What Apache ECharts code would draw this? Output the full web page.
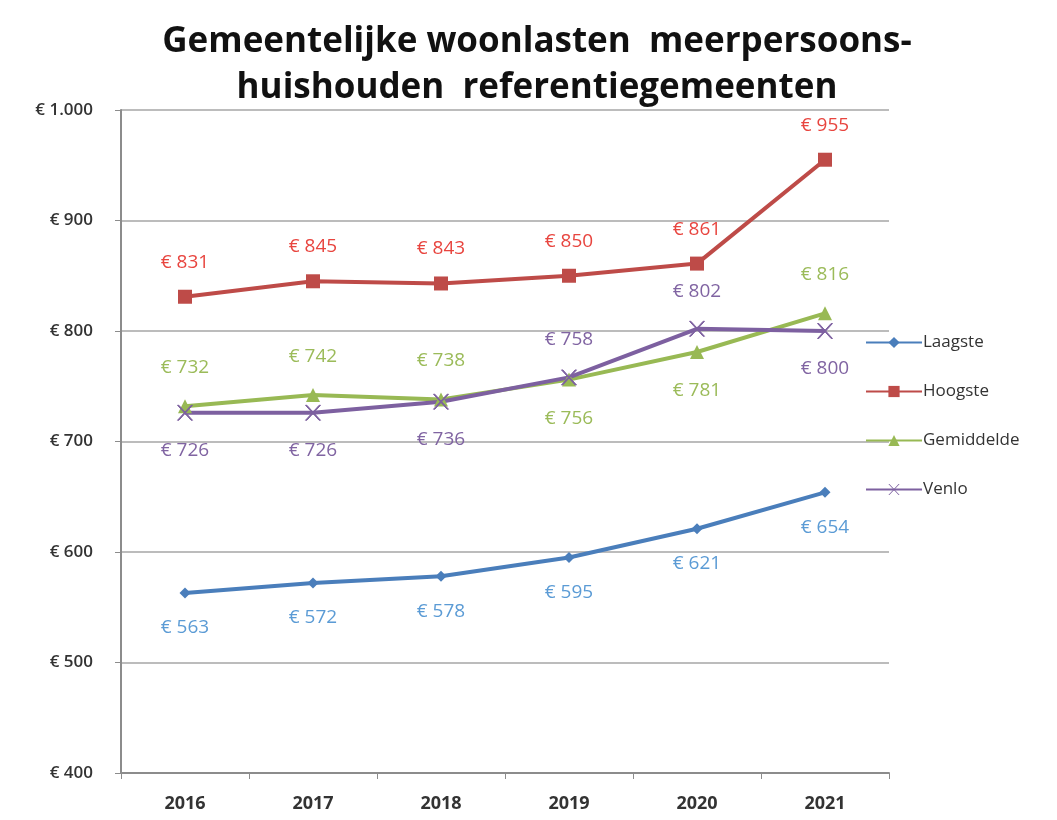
<!DOCTYPE html>
<html>
<head>
<meta charset="utf-8">
<script src="https://cdn.jsdelivr.net/npm/echarts@6/dist/echarts.min.js"></script>
<style>
  html, body { margin: 0; padding: 0; background: #fff; }
  #chart { width: 1057px; height: 820px; }
</style>
</head>
<body>
<div id="chart"></div>
<script>
var years = ['2016', '2017', '2018', '2019', '2020', '2021'];
var laagste = [563, 572, 578, 595, 621, 654];
var hoogste = [831, 845, 843, 850, 861, 955];
var gemiddelde = [732, 742, 738, 756, 781, 816];
var venlo = [726, 726, 736, 758, 802, 800];
// label above (true) or below (false) per point
var gemAbove = [true, true, true, false, false, true];
var venloAbove = [false, false, false, true, true, false];

var crossPath = 'path://M0,0 L1,0 L11,10 L10,10 Z M10,0 L11,0 L1,10 L0,10 Z';

function euro(v) {
  return '€ ' + String(v).replace(/\B(?=(\d{3})+(?!\d))/g, '.');
}

function withPos(values, above) {
  return values.map(function (v, i) {
    return { value: v, label: { position: above[i] ? 'top' : 'bottom' } };
  });
}

function labelStyle(color) {
  return {
    show: true,
    color: color,
    fontSize: 19,
    fontFamily: 'Open Sans',
    distance: 14,
    formatter: function (p) { return euro(p.value); }
  };
}

var chart = echarts.init(document.getElementById('chart'));
chart.setOption({
  backgroundColor: '#fff',
  animation: false,
  title: {
    text: 'Gemeentelijke woonlasten  meerpersoons-\nhuishouden  referentiegemeenten',
    left: 532,
    textAlign: 'center',
    top: 14,
    textStyle: {
      fontFamily: 'Open Sans',
      fontWeight: 'bold',
      fontSize: 35,
      lineHeight: 46,
      color: '#111'
    }
  },
  legend: {
    orient: 'vertical',
    left: 860,
    top: 329,
    itemGap: 32,
    itemWidth: 56,
    itemHeight: 14,
    textStyle: { fontFamily: 'Open Sans', fontSize: 17, color: '#333', padding: [0, 0, 0, -4] },
    data: ['Laagste', 'Hoogste', 'Gemiddelde', 'Venlo']
  },
  grid: { left: 121, right: 168, top: 110, bottom: 47 },
  xAxis: {
    type: 'category',
    data: years,
    boundaryGap: true,
    axisLine: { lineStyle: { color: '#8c8c8c', width: 2 } },
    axisTick: { show: true, length: 6, lineStyle: { color: '#8c8c8c' } },
    axisLabel: { color: '#333', fontSize: 18, fontWeight: 'bold', fontFamily: 'Open Sans', margin: 22 }
  },
  yAxis: {
    type: 'value',
    min: 400,
    max: 1000,
    interval: 100,
    axisLine: { show: true, lineStyle: { color: '#8c8c8c', width: 2 } },
    axisTick: { show: true, length: 6, inside: false, lineStyle: { color: '#8c8c8c' } },
    splitLine: { lineStyle: { color: '#a6a6a6', width: 1.5 } },
    axisLabel: {
      color: '#333', fontSize: 17, fontWeight: 600, fontFamily: 'Open Sans', margin: 28,
      formatter: function (v) { return euro(v); }
    }
  },
  series: [
    {
      name: 'Laagste',
      type: 'line',
      data: laagste,
      symbol: 'diamond',
      symbolSize: 11,
      color: '#4a7ebb',
      lineStyle: { width: 4, color: '#4a7ebb' },
      label: Object.assign(labelStyle('#5b9bd5'), { position: 'bottom', distance: 20 })
    },
    {
      name: 'Hoogste',
      type: 'line',
      data: hoogste,
      symbol: 'rect',
      symbolSize: 14,
      color: '#be4b48',
      lineStyle: { width: 4, color: '#be4b48' },
      label: Object.assign(labelStyle('#e8453f'), { position: 'top', distance: 18 })
    },
    {
      name: 'Gemiddelde',
      type: 'line',
      data: withPos(gemiddelde, gemAbove),
      symbol: 'triangle',
      symbolSize: 14,
      color: '#98b954',
      lineStyle: { width: 4, color: '#98b954' },
      label: Object.assign(labelStyle('#9bbb59'), { distance: 22 })
    },
    {
      name: 'Venlo',
      type: 'line',
      data: withPos(venlo, venloAbove),
      symbol: crossPath,
      symbolSize: 15,
      color: '#7d60a0',
      itemStyle: { color: '#7d60a0', borderColor: '#7d60a0' },
      lineStyle: { width: 4, color: '#7d60a0' },
      label: Object.assign(labelStyle('#8064a2'), { distance: 20 })
    }
  ]
});
</script>
</body>
</html>
